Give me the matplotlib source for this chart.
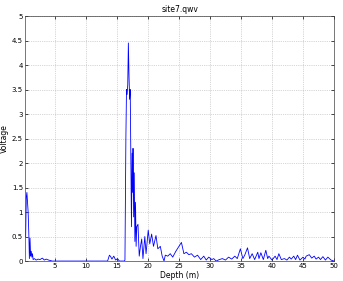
import matplotlib
matplotlib.use("Agg")
import matplotlib.pyplot as plt

depth = [0.3, 0.4, 0.5, 0.6, 0.7, 0.8, 0.9, 1.0, 1.1, 1.2, 1.3, 1.4, 1.5, 1.7, 2.0, 2.3, 2.6, 3.0, 3.3, 3.6, 4.0, 4.3, 4.6, 5.5, 8.0, 11.0, 13.5,
         13.8, 14.0, 14.2, 14.5, 14.8, 15.1, 15.4, 16.2,
         16.3, 16.45, 16.55, 16.65, 16.75, 16.85, 16.95, 17.05, 17.15, 17.25, 17.35, 17.45, 17.55, 17.6, 17.7, 17.8, 17.9, 18.0, 18.1, 18.2,
         18.4, 18.6, 18.8, 19.0, 19.2, 19.5, 19.7, 20.05, 20.3, 20.6, 20.9, 21.3, 21.6, 22.0, 22.3, 22.6,
         22.8, 23.2, 23.6, 24.0, 24.5, 25.0, 25.4, 25.8, 26.2, 26.6, 27.0, 27.5, 28.0, 28.5, 29.0, 29.4, 29.8, 30.3, 30.6, 31.0,
         31.5, 32.0, 32.5, 33.0, 33.5, 34.0, 34.4, 34.9, 35.3, 35.6, 36.05, 36.4, 36.8, 37.2, 37.7, 37.9, 38.2, 38.6, 39.0, 39.3, 39.5,
         40.0, 40.5, 40.8, 41.1, 41.5, 42.0, 42.4, 42.8, 43.1, 43.5, 43.8, 44.1, 44.5, 45.0, 45.3, 45.5, 46.0, 46.4, 46.8, 47.1, 47.5,
         47.8, 48.2, 48.6, 49.0, 49.5, 50.0]
voltage = [0.5, 1.3, 1.4, 1.2, 1.0, 0.6, 0.05, 0.47, 0.1, 0.2, 0.08, 0.15, 0.03, 0.05, 0.02, 0.04, 0.03, 0.06, 0.02, 0.04, 0.02, 0.01, 0.0, 0.0, 0.0, 0.0, 0.0,
           0.12, 0.09, 0.04, 0.1, 0.02, 0.05, 0.0, 0.0,
           0.02, 2.5, 3.5, 3.4, 3.6, 4.45, 3.8, 3.3, 3.5, 2.0, 0.7, 2.2, 1.4, 2.3, 0.9, 1.8, 0.4, 1.2, 0.3, 0.7,
           0.75, 0.1, 0.3, 0.45, 0.05, 0.5, 0.15, 0.63, 0.35, 0.55, 0.3, 0.52, 0.25, 0.3, 0.1, 0.0,
           0.12, 0.1, 0.15, 0.08, 0.2, 0.3, 0.38, 0.15, 0.18, 0.13, 0.15, 0.08, 0.12, 0.03, 0.1, 0.02, 0.08, 0.03, 0.05, 0.0,
           0.03, 0.05, 0.02, 0.08, 0.04, 0.1, 0.05, 0.25, 0.05, 0.12, 0.27, 0.05, 0.15, 0.03, 0.18, 0.05, 0.17, 0.03, 0.22, 0.05, 0.1,
           0.02, 0.1, 0.03, 0.15, 0.03, 0.05, 0.02, 0.08, 0.04, 0.1, 0.03, 0.12, 0.02, 0.08, 0.04, 0.1, 0.13, 0.06, 0.1, 0.04, 0.08,
           0.03, 0.09, 0.02, 0.08, 0.02, 0.0]

xticks = [5, 10, 15, 20, 25, 30, 35, 40, 45, 50]
yticks = [0, 0.5, 1, 1.5, 2, 2.5, 3, 3.5, 4, 4.5, 5]
ytick_labels = ["0", "0.5", "1", "1.5", "2", "2.5", "3", "3.5", "4", "4.5", "5"]

fig = plt.figure(figsize=(3.43, 2.81), dpi=100)
ax = fig.add_axes([0.073, 0.071, 0.901, 0.872])
ax.plot(depth, voltage, color=(0, 0, 1), linewidth=0.6)
ax.set_xlim(0.2, 50)
ax.set_ylim(0, 5)
ax.set_xticks(xticks)
ax.set_yticks(yticks)
ax.set_yticklabels(ytick_labels)
ax.tick_params(direction="in", length=2, width=0.5, labelsize=5, pad=1.5,
               top=True, right=True)
ax.grid(True, linestyle=":", linewidth=0.5, color="#b0b0b0")
for s in ax.spines.values():
    s.set_linewidth(0.5)
    s.set_color("#404040")
ax.set_xlabel("Depth (m)", fontsize=5.5, labelpad=1)
ax.set_ylabel("Voltage", fontsize=5.5, labelpad=2)
ax.set_title("site7.qwv", fontsize=5.5, pad=3)
fig.savefig("out.png", dpi=100)
